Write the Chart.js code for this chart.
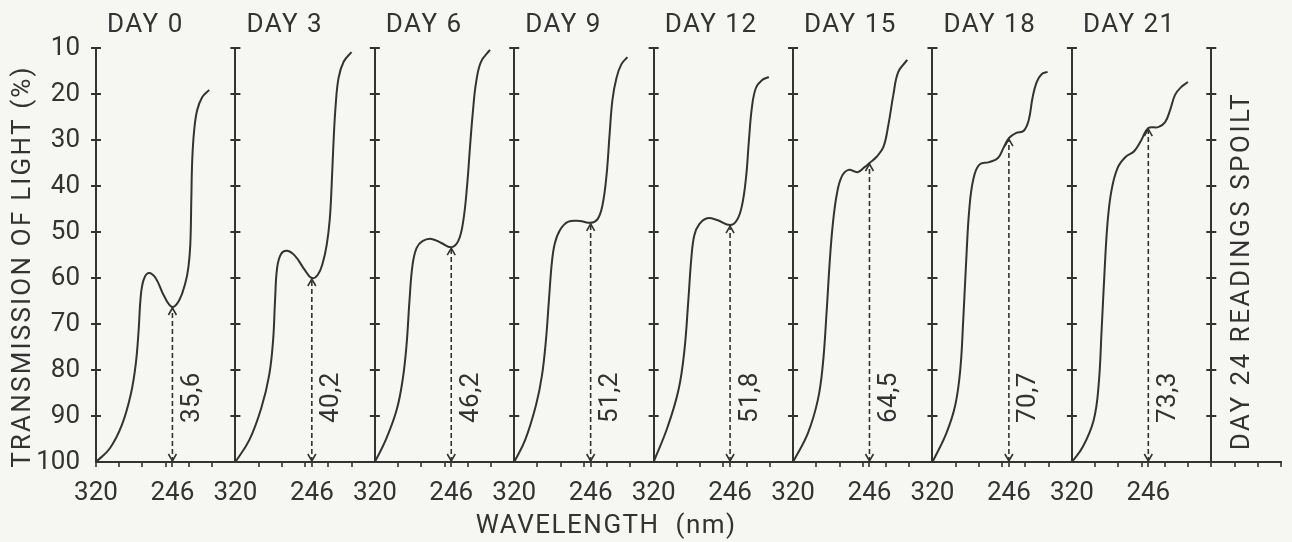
<!DOCTYPE html>
<html><head><meta charset="utf-8">
<script src="https://cdn.jsdelivr.net/npm/chart.js@4"></script>
<style>html,body{margin:0;padding:0;background:#f6f6f3}canvas{display:block}</style>
</head><body>
<canvas id="c" width="1292" height="542"></canvas>
<script>
// ---- data ----
const days = [0, 3, 6, 9, 12, 15, 18, 21];
const peakLabels = ['35,6', '40,2', '46,2', '51,2', '51,8', '64,5', '70,7', '73,3'];
const xTickLabels = { start: '320', mark: '246' };
const startWl = 320, markWl = 246;

const wlDay0 = [320, 306.5, 295.0, 286.4, 281.6, 278.7, 276.8, 273.9, 269.1, 262.3, 253.7, 246, 239.3, 233.5, 230.6, 228.7, 227.7, 226.8, 224.9, 222.0, 217.2, 210.4];
const trDay0 = [100, 97.0, 92.0, 85.4, 78.9, 71.3, 64.3, 60.4, 58.9, 60.0, 64.1, 66.3, 64.8, 61.1, 57.8, 52.8, 43.0, 34.3, 27.8, 23.5, 20.7, 19.1];

const wlDay3 = [320, 306.5, 295.0, 287.3, 283.5, 281.6, 279.6, 275.8, 270.0, 262.3, 252.7, 246, 240.2, 235.4, 231.6, 228.7, 226.8, 224.9, 222.9, 220.1, 215.2, 207.6];
const trDay3 = [100, 95.2, 88.3, 81.1, 73.5, 64.8, 57.8, 54.8, 54.1, 55.2, 58.3, 60.0, 59.3, 56.7, 52.8, 47.4, 39.8, 30.0, 22.4, 16.5, 13.0, 10.9];

const wlDay6 = [320, 309.4, 298.9, 293.1, 289.3, 286.4, 283.5, 279.6, 273.9, 265.2, 255.6, 246, 239.3, 234.5, 230.6, 227.7, 224.9, 222.0, 217.2, 208.5];
const trDay6 = [100, 95.2, 88.7, 82.2, 74.6, 64.8, 57.2, 53.5, 52.0, 51.5, 52.4, 53.3, 52.0, 47.8, 39.8, 31.1, 23.5, 17.6, 13.0, 10.4];

const wlDay9 = [320, 309.4, 298.9, 293.1, 289.3, 286.4, 283.5, 280.6, 275.8, 268.1, 256.6, 246, 239.3, 234.5, 230.6, 227.7, 224.9, 221.0, 216.2, 210.4];
const trDay9 = [100, 95.2, 87.6, 81.1, 73.5, 64.8, 56.5, 52.4, 49.6, 47.8, 47.6, 48.0, 47.2, 44.1, 37.6, 28.9, 21.3, 16.5, 13.5, 12.0];

const wlDay12 = [320, 306.5, 295.9, 290.2, 286.4, 283.5, 280.6, 275.8, 268.1, 258.5, 246, 239.3, 234.5, 230.6, 227.7, 224.9, 221.0, 215.2, 208.5];
const trDay12 = [100, 92.4, 84.3, 75.7, 64.8, 55.7, 50.7, 48.3, 47.0, 47.4, 48.5, 47.4, 44.3, 38.3, 30.0, 23.0, 18.7, 17.0, 16.3];

const wlDay15 = [320, 305.6, 296.0, 291.2, 287.4, 284.5, 281.6, 277.8, 273.0, 266.3, 257.5, 250.8, 246, 239.3, 232.5, 227.7, 222.9, 218.1, 209.4];
const trDay15 = [100, 93.7, 86.5, 78.9, 67.0, 56.5, 48.5, 42.0, 38.0, 36.5, 37.0, 35.9, 35.0, 33.7, 31.5, 26.7, 20.2, 15.2, 12.6];

const wlDay18 = [320, 306.5, 297.9, 293.1, 290.2, 287.3, 284.4, 280.6, 274.8, 265.2, 256.6, 250.8, 246, 239.3, 231.6, 226.8, 223.0, 219.1, 214.3, 208.5];
const trDay18 = [100, 93.7, 87.6, 80.0, 69.1, 56.1, 45.2, 38.7, 35.4, 34.8, 33.9, 31.5, 29.6, 28.5, 28.0, 25.7, 20.7, 17.4, 15.7, 15.2];

const wlDay21 = [320, 309.4, 298.9, 294.1, 291.2, 288.3, 285.4, 281.6, 275.8, 268.1, 259.5, 252.7, 246, 236.4, 229.7, 224.9, 220.1, 214.3, 207.6];
const trDay21 = [100, 96.7, 90.9, 83.3, 71.3, 58.3, 47.8, 40.9, 36.1, 33.7, 32.4, 30.0, 27.4, 27.2, 26.1, 23.5, 20.2, 18.5, 17.4];

const wls = [wlDay0, wlDay3, wlDay6, wlDay9, wlDay12, wlDay15, wlDay18, wlDay21];
const trs = [trDay0, trDay3, trDay6, trDay9, trDay12, trDay15, trDay18, trDay21];

// ---- shared wavelength axis: each panel spans PANEL nm ----
const PANEL = 135;
const N_AXES = 9;
const X_MAX = 8.5 * PANEL;
const MINOR = PANEL / 6;
const toX = (k, wl) => k * PANEL + (startWl - wl);
const isPanel = v => Math.abs(v / PANEL - Math.round(v / PANEL)) < 1e-6;
const isMark = v => days.some((d, k) => Math.abs(v - toX(k, markWl)) < 1e-6);

const ink = '#333333';
const FONT = 'Roboto, "DejaVu Sans", sans-serif';

const curveSets = days.map((d, k) => ({
  label: 'DAY ' + d,
  data: wls[k].map((w, i) => ({ x: toX(k, w), y: trs[k][i] })),
  borderColor: ink, borderWidth: 2, pointRadius: 0,
  tension: 0.4, fill: false
}));
const arrowSets = days.map((d, k) => {
  const i = wls[k].indexOf(markWl);
  return {
    label: 'arrow ' + d,
    data: [{ x: toX(k, markWl), y: 100 }, { x: toX(k, markWl), y: trs[k][i] }],
    borderColor: ink, borderWidth: 1.6, borderDash: [5, 3], pointRadius: 0, tension: 0, fill: false
  };
});

const decor = {
  id: 'decor',
  beforeDraw(chart) {
    const c = chart.ctx;
    c.save(); c.fillStyle = '#f6f6f3'; c.fillRect(0, 0, chart.width, chart.height); c.restore();
  },
  afterDatasetsDraw(chart) {
    const c = chart.ctx, xs = chart.scales.x, ys = chart.scales.y;
    c.save();
    c.strokeStyle = ink; c.fillStyle = ink;
    // panel axis tick marks
    c.lineWidth = 2;
    for (let k = 0; k < N_AXES; k++) {
      const px = xs.getPixelForValue(k * PANEL);
      for (let v = 10; v < 100; v += 10) {
        const py = ys.getPixelForValue(v);
        c.beginPath(); c.moveTo(px - 5, py); c.lineTo(px + 5, py); c.stroke();
      }
    }
    // arrow heads
    c.lineWidth = 1.6;
    days.forEach((d, k) => {
      const i = wls[k].indexOf(markWl);
      const px = xs.getPixelForValue(toX(k, markWl));
      const top = ys.getPixelForValue(trs[k][i]);
      const base = ys.getPixelForValue(100);
      c.beginPath();
      c.moveTo(px - 4, top + 8); c.lineTo(px, top + 1); c.lineTo(px + 4, top + 8);
      c.moveTo(px - 4, base - 8); c.lineTo(px, base - 1); c.lineTo(px + 4, base - 8);
      c.stroke();
      // rotated value labels
      c.save();
      c.translate(px + 20, ys.getPixelForValue(86));
      c.rotate(-Math.PI / 2);
      c.font = '26px ' + FONT; c.textAlign = 'center'; c.textBaseline = 'middle';
      c.letterSpacing = '0.5px';
      c.fillText(peakLabels[k], 0, 0);
      c.restore();
      // panel titles
      c.font = '26px ' + FONT; c.textAlign = 'left'; c.textBaseline = 'middle';
      c.letterSpacing = '1.5px';
      c.fillText('DAY ' + d, xs.getPixelForValue(k * PANEL) + 11, 25);
      c.letterSpacing = '0px';
    });
    // x axis title
    c.font = '26px ' + FONT; c.textAlign = 'center'; c.textBaseline = 'middle';
    c.letterSpacing = '1.5px';
    c.fillText('WAVELENGTH  (nm)', xs.getPixelForValue(3.66 * PANEL), chart.height - 16);
    // y axis title
    c.save();
    c.translate(23, ys.getPixelForValue(57.5));
    c.rotate(-Math.PI / 2);
    c.letterSpacing = '2.2px';
    c.fillText('TRANSMISSION OF LIGHT (%)', 0, 0);
    c.restore();
    // right side note
    c.save();
    c.translate(xs.getPixelForValue(8 * PANEL) + 31, ys.getPixelForValue(58.5));
    c.rotate(-Math.PI / 2);
    c.letterSpacing = '2.5px';
    c.fillText('DAY 24 READINGS SPOILT', 0, 0);
    c.restore();
    c.restore();
  }
};

new Chart(document.getElementById('c'), {
  type: 'line',
  data: { datasets: [...curveSets, ...arrowSets] },
  plugins: [decor],
  options: {
    responsive: false, animation: false, devicePixelRatio: 1,
    layout: { padding: { top: 48, right: 9, bottom: 0, left: 0 } },
    plugins: { legend: { display: false }, tooltip: { enabled: false } },
    scales: {
      x: {
        type: 'linear', min: 0, max: X_MAX,
        afterBuildTicks: s => {
          const t = [];
          for (let i = 0; i * MINOR <= X_MAX + 1e-6; i++) t.push({ value: i * MINOR });
          days.forEach((d, k) => t.push({ value: toX(k, markWl) }));
          t.sort((a, b) => a.value - b.value);
          s.ticks = t;
        },
        afterFit: s => { s.height = 80; },
        ticks: {
          autoSkip: false, maxRotation: 0, padding: 11, color: ink,
          font: { family: FONT, size: 26 },
          callback: v => (isPanel(v) && v < 8 * PANEL - 1) ? xTickLabels.start : (isMark(v) ? xTickLabels.mark : '')
        },
        grid: {
          drawOnChartArea: true,
          color: ctx => (ctx.tick && isPanel(ctx.tick.value)) ? ink : 'rgba(0,0,0,0)',
          lineWidth: 2, tickLength: 5, tickWidth: 1.6,
          tickColor: ctx => (ctx.tick && isPanel(ctx.tick.value) && ctx.tick.value > 0 && ctx.tick.value < 8 * PANEL - 1) ? 'rgba(0,0,0,0)' : ink
        },
        border: { display: true, color: ink, width: 2 }
      },
      y: {
        type: 'linear', min: 10, max: 100, reverse: true,
        afterFit: s => { s.width = 96; },
        ticks: { stepSize: 10, padding: 8, color: ink, font: { family: FONT, size: 26 } },
        grid: { display: false }, border: { display: false },
        title: { display: false }
      }
    }
  }
});
</script>
</body></html>
